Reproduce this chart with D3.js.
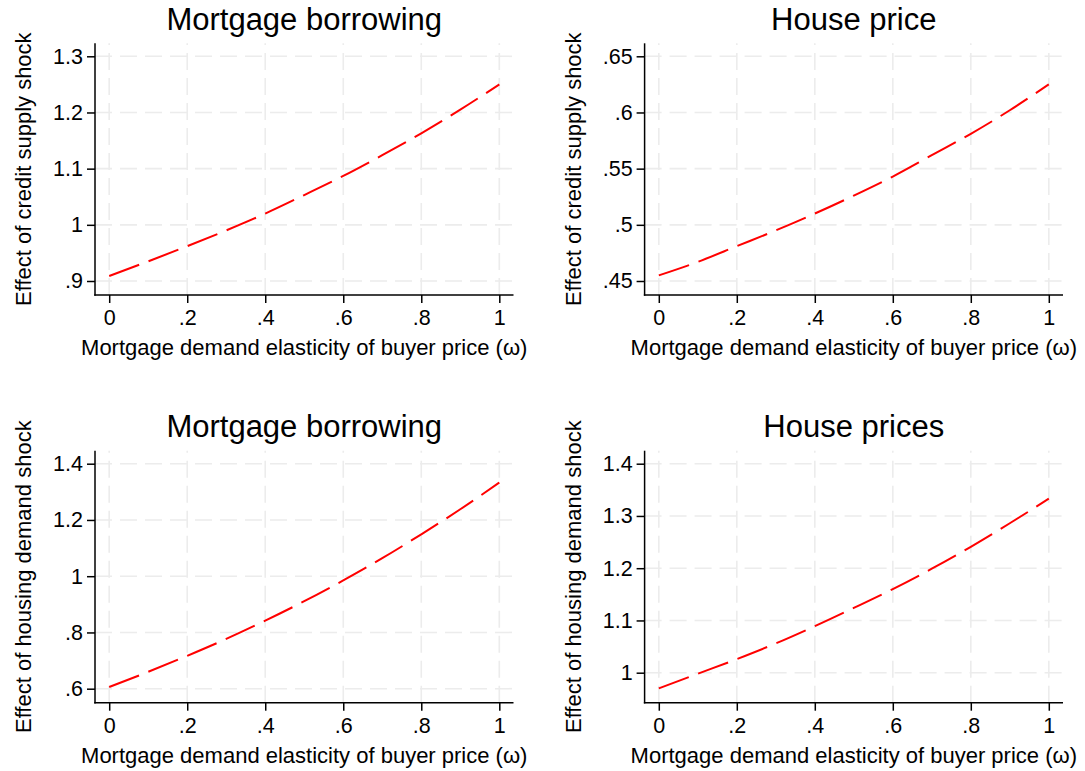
<!DOCTYPE html>
<html>
<head>
<meta charset="utf-8">
<script src="https://cdn.jsdelivr.net/npm/d3@7"></script>
<style>
  html, body { margin: 0; padding: 0; background: #fff; }
  svg { display: block; font-family: "Liberation Sans", Arial, sans-serif; }
</style>
</head>
<body>
<svg id="chart" width="1085" height="771"></svg>
<script>
// Mortgage demand elasticity of buyer price (omega), shared x values
const omega = [0, 0.1, 0.2, 0.3, 0.4, 0.5, 0.6, 0.7, 0.8, 0.9, 1.0];

// Effect of credit supply shock
const creditBorrowing = [0.909, 0.935, 0.962, 0.990, 1.020, 1.053, 1.087, 1.124, 1.163, 1.205, 1.250];
const creditHousePrice = [0.455, 0.467, 0.481, 0.495, 0.510, 0.526, 0.543, 0.562, 0.581, 0.602, 0.625];

// Effect of housing demand shock
const demandBorrowing = [0.606, 0.660, 0.717, 0.777, 0.842, 0.911, 0.985, 1.064, 1.149, 1.238, 1.333];
const demandHousePrices = [0.970, 0.998, 1.026, 1.056, 1.089, 1.124, 1.160, 1.199, 1.241, 1.286, 1.333];

// Tick values
const xTicks = [0, 0.2, 0.4, 0.6, 0.8, 1];
const yTicksCreditBorrowing = [0.9, 1.0, 1.1, 1.2, 1.3];
const yTicksCreditPrice = [0.45, 0.50, 0.55, 0.60, 0.65];
const yTicksDemandBorrowing = [0.6, 0.8, 1.0, 1.2, 1.4];
const yTicksDemandPrices = [1.0, 1.1, 1.2, 1.3, 1.4];

// Titles
const panelTitles = ["Mortgage borrowing", "House price", "Mortgage borrowing", "House prices"];
const yTitles = ["Effect of credit supply shock", "Effect of credit supply shock",
                 "Effect of housing demand shock", "Effect of housing demand shock"];
const xTitle = "Mortgage demand elasticity of buyer price (\u03c9)";

const panels = [
  { title: panelTitles[0], yTitle: yTitles[0], values: creditBorrowing,  yTicks: yTicksCreditBorrowing, col: 0, row: 0, padBottom: 14 },
  { title: panelTitles[1], yTitle: yTitles[1], values: creditHousePrice, yTicks: yTicksCreditPrice,     col: 1, row: 0, padBottom: 14 },
  { title: panelTitles[2], yTitle: yTitles[2], values: demandBorrowing,  yTicks: yTicksDemandBorrowing, col: 0, row: 1, padBottom: 14 },
  { title: panelTitles[3], yTitle: yTitles[3], values: demandHousePrices,yTicks: yTicksDemandPrices,    col: 1, row: 1, padBottom: 30 }
];

// Plot-region geometry for each column/row
const colX = [[95, 513.5], [644.6, 1063]];
const rowY = [[43.3, 295], [450.7, 702.7]];
const padX = 14.2, padTop = 13;

const svg = d3.select("#chart");
const fmt = v => {
  let s = d3.format("~g")(+v.toFixed(3));
  return s.replace(/^0\./, ".");
};

panels.forEach(p => {
  const [x0, x1] = colX[p.col];
  const [y0, y1] = rowY[p.row];
  const g = svg.append("g");

  const x = d3.scaleLinear().domain([0, 1]).range([x0 + padX, x1 - padX]);
  const yMin = d3.min(p.yTicks), yMax = d3.max(p.yTicks);
  const y = d3.scaleLinear().domain([yMin, yMax]).range([y1 - p.padBottom, y0 + padTop]);

  // grid
  const grid = g.append("g").attr("stroke", "#ececec").attr("stroke-width", 1.6)
    .attr("stroke-dasharray", "17,8").attr("fill", "none");
  grid.selectAll("line.h").data(p.yTicks).join("line")
    .attr("x1", x0).attr("x2", x1)
    .attr("y1", d => y(d)).attr("y2", d => y(d));
  grid.selectAll("line.v").data(xTicks).join("line")
    .attr("x1", d => x(d)).attr("x2", d => x(d))
    .attr("y1", y1).attr("y2", y0);

  // axes
  const yAxis = d3.axisLeft(y).tickValues(p.yTicks).tickSize(8).tickPadding(4).tickFormat(fmt);
  const gy = g.append("g").attr("transform", `translate(${x0},0)`).call(yAxis);
  const xAxis = d3.axisBottom(x).tickValues(xTicks).tickSize(8).tickPadding(7).tickFormat(fmt);
  const gx = g.append("g").attr("transform", `translate(0,${y1})`).call(xAxis);
  [gx, gy].forEach(a => {
    a.select(".domain").remove();
    a.selectAll(".tick line").attr("stroke", "#000").attr("stroke-width", 1.5);
    a.selectAll(".tick text").attr("fill", "#000").style("font-size", "21.5px")
      .style("font-family", "'Liberation Sans', Arial, sans-serif");
  });
  g.append("line").attr("x1", x0).attr("x2", x0).attr("y1", y0).attr("y2", y1 + 0.75)
    .attr("stroke", "#000").attr("stroke-width", 1.5);
  g.append("line").attr("x1", x0 - 0.75).attr("x2", x1).attr("y1", y1).attr("y2", y1)
    .attr("stroke", "#000").attr("stroke-width", 1.5);

  // curve
  const line = d3.line().x((d, i) => x(omega[i])).y(d => y(d)).curve(d3.curveMonotoneX);
  g.append("path").datum(p.values).attr("d", line)
    .attr("fill", "none").attr("stroke", "#ff0000").attr("stroke-width", 2)
    .attr("stroke-dasharray", "32,10");

  // titles
  const cx = (x0 + x1) / 2, cy = (y0 + y1) / 2;
  g.append("text").attr("x", cx).attr("y", y0 - 13.5).attr("text-anchor", "middle")
    .style("font-size", "31px").attr("fill", "#000").text(p.title);
  g.append("text").attr("x", cx).attr("y", y1 + 60).attr("text-anchor", "middle")
    .style("font-size", "22px").attr("fill", "#000").text(xTitle);
  g.append("text").attr("transform", `translate(${x0 - 64},${cy}) rotate(-90)`)
    .attr("text-anchor", "middle").style("font-size", "22px").attr("fill", "#000").text(p.yTitle);
});
</script>
</body>
</html>
